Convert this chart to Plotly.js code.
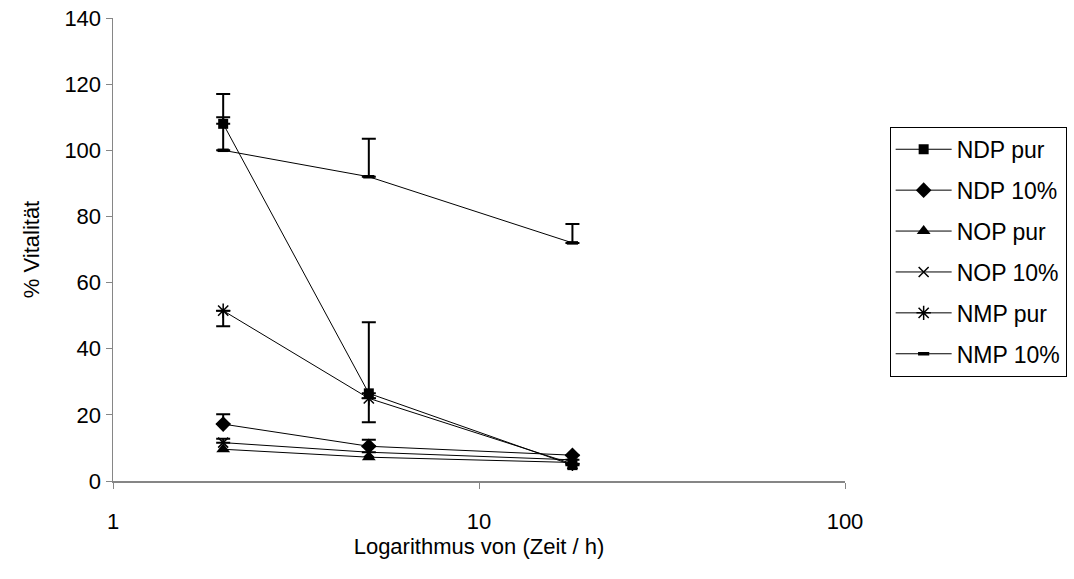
<!DOCTYPE html>
<html>
<head>
<meta charset="utf-8">
<script src="https://cdn.plot.ly/plotly-3.0.1.min.js"></script>
<style>
  html, body { margin: 0; padding: 0; background: #fff; }
  #chart { width: 1074px; height: 579px; }
</style>
</head>
<body>
<div id="chart"></div>
<script>
// Exposure times (h)
const zeit = [2, 5, 18];

// Vitality (%) per solvent / concentration
const ndpPur   = [108, 26.5, 4.8];
const ndp10    = [17.2, 10.5, 7.8];
const nopPur   = [9.6, 7.2, 5.6];
const nop10    = [11.6, 8.7, 6.4];
const nmpPur   = [51.5, 25, 5.2];
const nmp10    = [100, 92, 72];

// One-sided error bars (plus or minus)
const ndpPurPlus  = [9, 21.5, 0];
const ndp10Plus   = [3, 2, 0];
const nop10Plus   = [1.2, 0, 0];
const nmpPurMinus = [4.7, 7.2, 0];
const nmp10Plus   = [10, 11.5, 5.7];

const names = ['NDP pur', 'NDP 10%', 'NOP pur', 'NOP 10%', 'NMP pur', 'NMP 10%'];

const lineStyle = { color: '#000', width: 1 };

function errPlus(arr) {
  return { type: 'data', symmetric: false, array: arr, arrayminus: arr.map(() => 0),
           color: '#000', thickness: 2, width: 7 };
}
function errMinus(arr) {
  return { type: 'data', symmetric: false, array: arr.map(() => 0), arrayminus: arr,
           color: '#000', thickness: 2, width: 7 };
}

const traces = [
  { y: ndpPur, name: names[0], marker: { symbol: 'square', size: 10, color: '#000' }, error_y: errPlus(ndpPurPlus) },
  { y: ndp10,  name: names[1], marker: { symbol: 'diamond', size: 12, color: '#000' }, error_y: errPlus(ndp10Plus) },
  { y: nopPur, name: names[2], marker: { symbol: 'triangle-up', size: 12, color: '#000' } },
  { y: nop10,  name: names[3], marker: { symbol: 'x-thin-open', size: 10, color: '#000', line: { color: '#000', width: 1.5 } }, error_y: errPlus(nop10Plus) },
  { y: nmpPur, name: names[4], marker: { symbol: 'asterisk-open', size: 12, color: '#000', line: { color: '#000', width: 1.5 } }, error_y: errMinus(nmpPurMinus) },
  { y: nmp10,  name: names[5], marker: { symbol: 'line-ew-open', size: 8, color: '#000', line: { color: '#000', width: 3.5 } }, error_y: errPlus(nmp10Plus) }
].map((t, i) => Object.assign({
  x: zeit, type: 'scatter', mode: 'lines+markers', line: lineStyle,
  legendgroup: 'g' + i
}, t));

const axisFont = { family: 'Liberation Sans, Arial, sans-serif', size: 22, color: '#000' };

const layout = {
  width: 1074, height: 579,
  margin: { l: 113, r: 229, t: 18, b: 98, autoexpand: false },
  paper_bgcolor: '#fff', plot_bgcolor: '#fff',
  font: axisFont,
  showlegend: true,
  xaxis: {
    type: 'log', range: [0, 2],
    tickvals: [1, 10, 100], ticktext: ['1', '10', '100'],
    showgrid: false, zeroline: false,
    showline: true, linecolor: '#868686', linewidth: 1.5,
    ticks: 'outside', ticklen: 6, tickcolor: '#868686', tickwidth: 1,
    ticklabelstandoff: 14,
    tickfont: axisFont,
    title: { text: 'Logarithmus von (Zeit / h)', font: axisFont, standoff: 4 }
  },
  yaxis: {
    range: [0, 140], dtick: 20, tick0: 0,
    showgrid: false, zeroline: false,
    showline: true, linecolor: '#868686', linewidth: 1.5,
    ticks: 'outside', ticklen: 6, tickcolor: '#868686', tickwidth: 1,
    tickfont: axisFont,
    title: { text: '% Vitalität', font: axisFont, standoff: 18 }
  },
  legend: {
    x: 1.061, y: 0.765, xanchor: 'left', yanchor: 'top',
    bordercolor: '#000', borderwidth: 1, bgcolor: '#fff',
    font: { family: 'Liberation Sans, Arial, sans-serif', size: 23, color: '#000' },
    tracegroupgap: 8, itemwidth: 56
  }
};

Plotly.newPlot('chart', traces, layout, { displayModeBar: false, staticPlot: true });
</script>
</body>
</html>
